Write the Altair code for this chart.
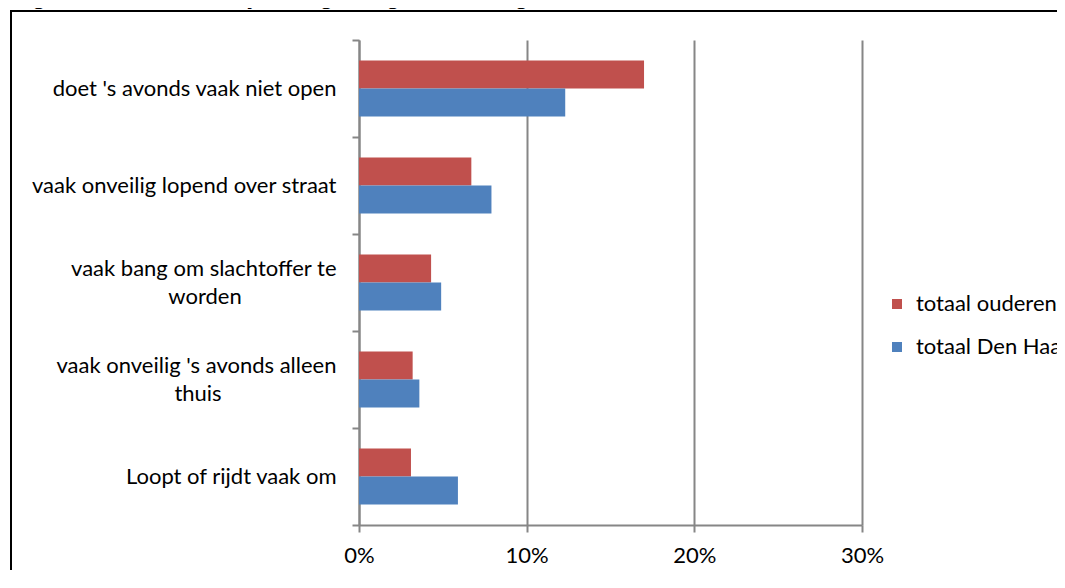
import json
import altair as alt
import pandas as pd

# ---- data ----
label_lines = [
    ["doet 's avonds vaak niet open"],
    ["vaak onveilig lopend over straat"],
    ["vaak bang om slachtoffer te", "worden"],
    ["vaak onveilig 's avonds alleen", "thuis"],
    ["Loopt of rijdt vaak om"],
]
categories = [" ".join(l) for l in label_lines]
series = ["totaal ouderen", "totaal Den Haag"]
ouderen = [0.170, 0.067, 0.043, 0.032, 0.031]
den_haag = [0.123, 0.079, 0.049, 0.036, 0.059]
x_ticks = [0, 0.1, 0.2, 0.3]
title_text = "Figuur 3.1 - Risicomijdend gedrag door Haagse ouderen 2021"

colors = ["#C0504D", "#4F81BD"]
FONT = "Lato"
FS = 22
GRAY = "#868686"
TXT = "#000000"

rows = []
for c, a, b in zip(categories, ouderen, den_haag):
    rows.append({"cat": c, "serie": series[0], "value": a})
    rows.append({"cat": c, "serie": series[1], "value": b})
df = pd.DataFrame(rows)

multi = [categories[i] for i, l in enumerate(label_lines) if len(l) > 1]
first_lines = {categories[i]: l[0] for i, l in enumerate(label_lines)}
expr = '""'
for c in reversed(categories):
    expr = "datum.value == %s ? %s : (%s)" % (
        json.dumps(c, ensure_ascii=False), json.dumps(first_lines[c], ensure_ascii=False), expr)
multi_test = "indexof(%s, datum.value) >= 0" % json.dumps(multi, ensure_ascii=False)

y_enc = alt.Y(
    "cat:N",
    sort=categories,
    scale=alt.Scale(domain=categories, paddingInner=0, paddingOuter=0),
    axis=alt.Axis(
        title="", grid=False, tickBand="extent", tickSize=7,
        tickColor=GRAY, tickWidth=2, domainColor=GRAY, domainWidth=2,
        labelPadding=16, labelFont=FONT, labelFontSize=FS, labelColor=TXT,
        labelLimit=400, labelExpr=expr,
        labelOffset={"condition": {"test": multi_test, "value": -14}, "value": 0},
    ),
)

bars = alt.Chart(df).mark_bar().encode(
    x=alt.X(
        "value:Q",
        scale=alt.Scale(domain=[0, 0.3], nice=False, zero=True),
        axis=alt.Axis(
            values=x_ticks, format="%", title="", grid=True, labelFlush=False,
            gridColor=GRAY, gridWidth=2, domainColor=GRAY, domainWidth=2,
            tickColor=GRAY, tickWidth=2, tickSize=7, labelPadding=13,
            labelFont=FONT, labelFontSize=FS, labelColor=TXT,
        ),
    ),
    y=y_enc,
    yOffset=alt.YOffset(
        "serie:N", sort=series,
        scale=alt.Scale(domain=series, paddingInner=0, paddingOuter=0.732),
    ),
    color=alt.Color(
        "serie:N",
        scale=alt.Scale(domain=series, range=colors),
        legend=alt.Legend(
            title="", orient="none", legendX=527, legendY=253,
            symbolType="square", symbolSize=100, symbolStrokeWidth=0,
            labelFont=FONT, labelFontSize=FS, labelColor=TXT,
            labelOffset=8, rowPadding=21, labelLimit=400,
        ),
    ),
)

# second lines of the two-line category labels, centred under the first line
second_centres = [-154, -161]
second_layers = []
k = 0
for i, l in enumerate(label_lines):
    if len(l) > 1:
        second_layers.append(
            alt.Chart(alt.Data(values=[{"cat": categories[i], "t": l[1]}])).mark_text(
                align="center", baseline="middle", dy=14, font=FONT, fontSize=FS, color=TXT
            ).encode(y=alt.Y("cat:N", sort=categories), x=alt.value(second_centres[k]), text="t:N")
        )
        k += 1

frame_left = alt.Chart(alt.Data(values=[{}])).mark_rule(color="#000000", strokeWidth=2).encode(
    x=alt.value(-348), y=alt.value(-30), y2=alt.value(600)
)
frame_top = alt.Chart(alt.Data(values=[{}])).mark_rule(color="#000000", strokeWidth=2).encode(
    x=alt.value(-349), x2=alt.value(720), y=alt.value(-29)
)

title = alt.Chart(alt.Data(values=[{"t": title_text}])).mark_text(
    align="left", baseline="alphabetic", font="Liberation Sans", fontSize=26, color="#000000"
).encode(text="t:N", x=alt.value(-349), y=alt.value(-36))

chart = alt.layer(frame_left, frame_top, title, bars, *second_layers).properties(
    width=503,
    height=485,
    autosize=alt.AutoSizeParams(type="none"),
    padding={"left": 351, "top": 32, "right": 195, "bottom": 45},
).configure_view(stroke="transparent")

chart.save("out.html", embed_options={"renderer": "svg", "actions": False})
